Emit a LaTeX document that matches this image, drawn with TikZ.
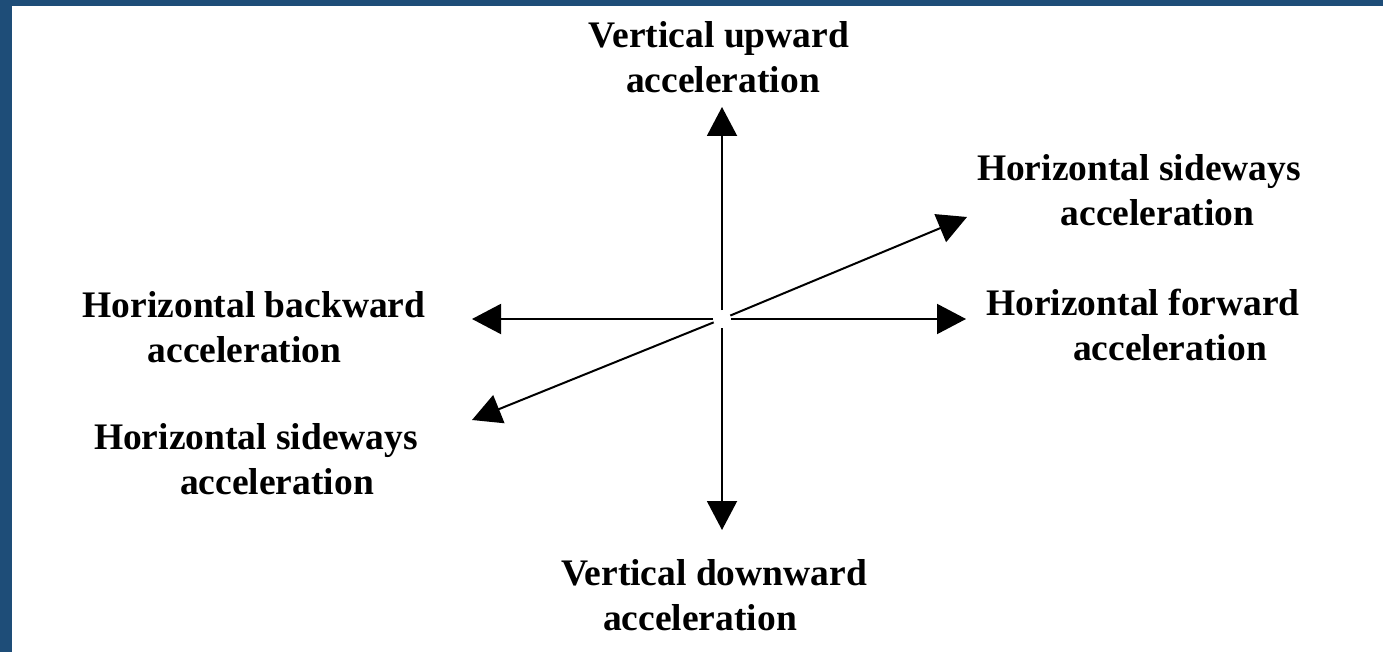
\documentclass[tikz,border=0pt]{standalone}
\usepackage{fontspec}
\setmainfont{Liberation Serif}
\usetikzlibrary{arrows.meta}
\definecolor{frameblue}{RGB}{30,77,120}
\begin{document}
\begin{tikzpicture}[x=1pt,y=-1pt,
  axis/.style={line width=2pt,shorten <=9pt,-{Triangle[length=29pt,width=30pt]}},
  lbl/.style={inner sep=0pt,align=center,font=\bfseries\fontsize{37.5}{45.5}\selectfont}]
  \useasboundingbox (0,0) rectangle (1383,652);
  \fill[frameblue] (0,0) rectangle (1383,652);
  \fill[white] (12,6) rectangle (1383,652);
  % centre and tips
  \coordinate (C) at (722,319);
  \coordinate (tipU) at (722,107);
  \coordinate (tipD) at (722,530);
  \coordinate (tipL) at (472,319);
  \coordinate (tipR) at (966,319);
  \coordinate (tipSR) at (967,217);
  \coordinate (tipSL) at (472,420);
  \draw[axis] (C) -- (tipU);
  \draw[axis] (C) -- (tipD);
  \draw[axis] (C) -- (tipL);
  \draw[axis] (C) -- (tipR);
  \draw[axis] (C) -- (tipSR);
  \draw[axis] (C) -- (tipSL);
  % labels
  \node[lbl] (up) at (719,57) {Vertical upward\\\hspace*{8pt}acceleration};
  \node[lbl] (sr) at (1139,190) {Horizontal sideways\\\hspace*{37pt}acceleration};
  \node[lbl] (back) at (254,327) {Horizontal backward\\\hspace*{-19pt}acceleration};
  \node[lbl] (fwd) at (1143,325) {Horizontal forward\\\hspace*{54pt}acceleration};
  \node[lbl] (sl) at (256,459) {Horizontal sideways\\\hspace*{42pt}acceleration};
  \node[lbl] (down) at (714,595) {Vertical downward\\\hspace*{-28pt}acceleration};
\end{tikzpicture}
\end{document}
